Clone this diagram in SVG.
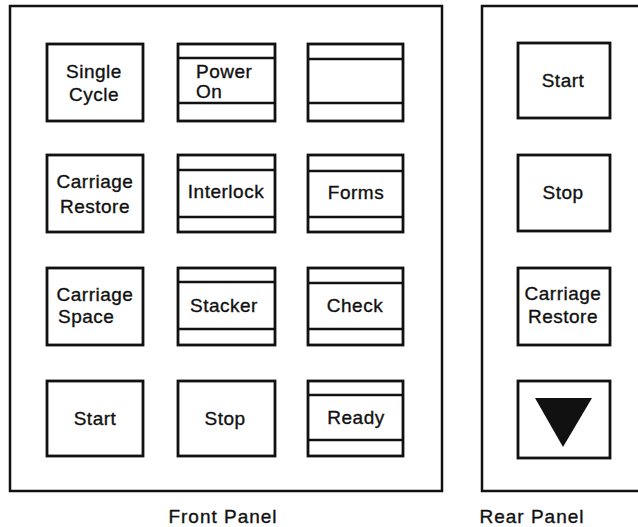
<svg xmlns="http://www.w3.org/2000/svg" width="638" height="527" viewBox="0 0 638 527">
<style>
.panel{fill:none;stroke:#111;stroke-width:2.5}
.btn{fill:#fff;stroke:#111;stroke-width:2.8}
.bar{stroke:#111;stroke-width:2.5}
text{font-family:"Liberation Sans",Arial,sans-serif;font-size:19px;fill:#111;stroke:#111;stroke-width:0.35;letter-spacing:0.5px}
.c{text-anchor:middle}
.lbl{letter-spacing:1px}
</style>
<rect width="638" height="527" fill="#fff"/>
<g id="front-panel">
<rect class="panel" x="10" y="6" width="432" height="485"/>
<text class="c lbl" x="223" y="523">Front Panel</text>
</g>
<g id="rear-panel">
<path class="panel" d="M638,6 H482 V491 H638"/>
<text class="c lbl" x="532" y="523">Rear Panel</text>
</g>
<g id="single-cycle">
<rect class="btn" x="47" y="44" width="96" height="77"/>
<text class="c" x="94" y="78">Single</text>
<text class="c" x="94" y="101">Cycle</text>
</g>
<g id="power-on">
<rect class="btn" x="178" y="44" width="97" height="77"/>
<line class="bar" x1="178" y1="58" x2="275" y2="58"/>
<line class="bar" x1="178" y1="103" x2="275" y2="103"/>
<text x="196" y="78">Power</text>
<text x="196" y="98">On</text>
</g>
<g id="blank">
<rect class="btn" x="308" y="44" width="95" height="77"/>
<line class="bar" x1="308" y1="59" x2="403" y2="59"/>
<line class="bar" x1="308" y1="103" x2="403" y2="103"/>
</g>
<g id="carriage-restore">
<rect class="btn" x="47" y="155" width="96" height="77"/>
<text class="c" x="95" y="188">Carriage</text>
<text class="c" x="95" y="213">Restore</text>
</g>
<g id="interlock">
<rect class="btn" x="178" y="155" width="97" height="77"/>
<line class="bar" x1="178" y1="170" x2="275" y2="170"/>
<line class="bar" x1="178" y1="217" x2="275" y2="217"/>
<text class="c" x="226" y="198">Interlock</text>
</g>
<g id="forms">
<rect class="btn" x="308" y="155" width="95" height="77"/>
<line class="bar" x1="308" y1="171" x2="403" y2="171"/>
<line class="bar" x1="308" y1="217" x2="403" y2="217"/>
<text class="c" x="356" y="199">Forms</text>
</g>
<g id="carriage-space">
<rect class="btn" x="47" y="268" width="96" height="77"/>
<text class="c" x="95" y="301">Carriage</text>
<text x="58" y="323">Space</text>
</g>
<g id="stacker">
<rect class="btn" x="178" y="268" width="97" height="77"/>
<line class="bar" x1="178" y1="282" x2="275" y2="282"/>
<line class="bar" x1="178" y1="329" x2="275" y2="329"/>
<text class="c" x="224" y="312">Stacker</text>
</g>
<g id="check">
<rect class="btn" x="308" y="268" width="95" height="77"/>
<line class="bar" x1="308" y1="283" x2="403" y2="283"/>
<line class="bar" x1="308" y1="329" x2="403" y2="329"/>
<text class="c" x="355" y="312">Check</text>
</g>
<g id="start-front">
<rect class="btn" x="47" y="381" width="96" height="75"/>
<text class="c" x="95" y="425">Start</text>
</g>
<g id="stop-front">
<rect class="btn" x="178" y="381" width="97" height="75"/>
<text class="c" x="225" y="425">Stop</text>
</g>
<g id="ready">
<rect class="btn" x="308" y="381" width="95" height="75"/>
<line class="bar" x1="308" y1="395" x2="403" y2="395"/>
<line class="bar" x1="308" y1="440" x2="403" y2="440"/>
<text class="c" x="356" y="424">Ready</text>
</g>
<g id="start-rear">
<rect class="btn" x="518" y="43" width="92" height="75"/>
<text class="c" x="563" y="87">Start</text>
</g>
<g id="stop-rear">
<rect class="btn" x="518" y="155" width="92" height="76"/>
<text class="c" x="563" y="199">Stop</text>
</g>
<g id="carriage-restore-rear">
<rect class="btn" x="518" y="268" width="92" height="77"/>
<text class="c" x="563" y="300">Carriage</text>
<text class="c" x="563" y="323">Restore</text>
</g>
<g id="triangle-button">
<rect class="btn" x="518" y="381" width="92" height="77"/>
<polygon points="535,398 592,398 563,447" fill="#111"/>
</g>
<g id="connectors"></g>
</svg>
